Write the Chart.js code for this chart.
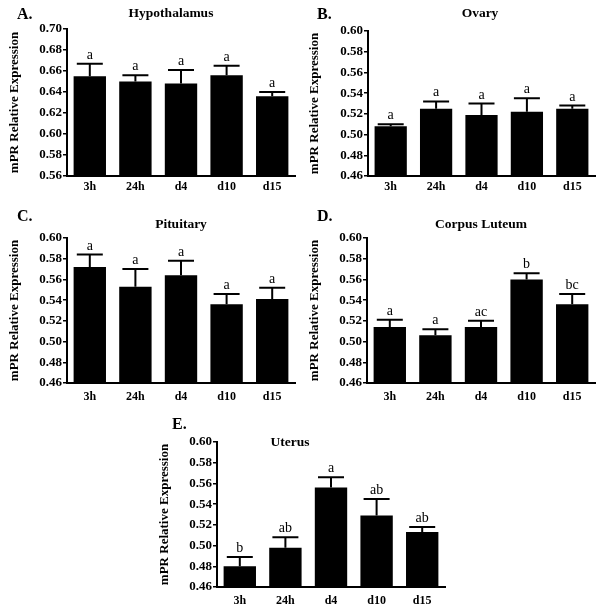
<!DOCTYPE html>
<html>
<head>
<meta charset="utf-8">
<script src="https://cdn.jsdelivr.net/npm/chart.js@4.4.0/dist/chart.umd.min.js"></script>
<style>
    body { margin: 0; background: #fff; }
    #wrap { position: relative; width: 600px; height: 608px; }
    #wrap canvas { position: absolute; }
</style>
</head>
<body>
<div id="wrap">
    <canvas id="chartA" width="300" height="200" style="left:0;top:0"></canvas>
    <canvas id="chartB" width="300" height="200" style="left:300px;top:0"></canvas>
    <canvas id="chartC" width="300" height="212" style="left:0;top:200px"></canvas>
    <canvas id="chartD" width="300" height="212" style="left:300px;top:200px"></canvas>
    <canvas id="chartE" width="300" height="208" style="left:150px;top:400px"></canvas>
</div>
<script>
// Data
const categories = ['3h', '24h', 'd4', 'd10', 'd15'];

const hypothalamusMean = [0.655, 0.650, 0.648, 0.656, 0.636];
const hypothalamusSem = [0.012, 0.006, 0.013, 0.009, 0.004];
const hypothalamusGroups = ['a', 'a', 'a', 'a', 'a'];

const ovaryMean = [0.508, 0.525, 0.519, 0.522, 0.525];
const ovarySem = [0.002, 0.007, 0.011, 0.013, 0.003];
const ovaryGroups = ['a', 'a', 'a', 'a', 'a'];

const pituitaryMean = [0.572, 0.553, 0.564, 0.536, 0.541];
const pituitarySem = [0.012, 0.017, 0.014, 0.010, 0.011];
const pituitaryGroups = ['a', 'a', 'a', 'a', 'a'];

const corpusLuteumMean = [0.514, 0.506, 0.514, 0.560, 0.536];
const corpusLuteumSem = [0.007, 0.006, 0.006, 0.006, 0.010];
const corpusLuteumGroups = ['a', 'a', 'ac', 'b', 'bc'];

const uterusMean = [0.480, 0.498, 0.556, 0.529, 0.513];
const uterusSem = [0.009, 0.010, 0.010, 0.016, 0.005];
const uterusGroups = ['b', 'ab', 'a', 'ab', 'ab'];

const hypothalamusRange = [0.56, 0.70];
const otherRange = [0.46, 0.60];
const tickStep = 0.02;

const serif = '"Liberation Serif", "Times New Roman", serif';

// Upper error bars + significance letters
const errorBars = {
    id: 'errorBars',
    afterDatasetsDraw(chart, args, opts) {
        const ctx = chart.ctx;
        const yScale = chart.scales.y;
        const data = chart.data.datasets[0].data;
        ctx.save();
        ctx.strokeStyle = '#000';
        ctx.fillStyle = '#000';
        ctx.lineWidth = 2;
        ctx.font = '14px ' + serif;
        ctx.textAlign = 'center';
        ctx.textBaseline = 'alphabetic';
        chart.getDatasetMeta(0).data.forEach((bar, i) => {
            const top = yScale.getPixelForValue(data[i] + opts.sem[i]);
            ctx.beginPath();
            ctx.moveTo(bar.x, bar.y);
            ctx.lineTo(bar.x, top);
            ctx.moveTo(bar.x - 13, top);
            ctx.lineTo(bar.x + 13, top);
            ctx.stroke();
            ctx.fillText(opts.groups[i], bar.x, top - 5);
        });
        ctx.restore();
    }
};

// Panel letter and title
const panelText = {
    id: 'panelText',
    afterDraw(chart, args, opts) {
        const ctx = chart.ctx;
        ctx.save();
        ctx.fillStyle = '#000';
        ctx.textBaseline = 'middle';
        ctx.textAlign = 'left';
        ctx.font = 'bold 16px ' + serif;
        ctx.fillText(opts.letter, opts.letterX, opts.letterY);
        ctx.textAlign = 'center';
        ctx.font = 'bold 13.5px ' + serif;
        ctx.fillText(opts.title, opts.titleX, opts.titleY);
        ctx.restore();
    }
};

function makeChart(id, mean, sem, groups, range, box, text) {
    const ctx = document.getElementById(id).getContext('2d');
    return new Chart(ctx, {
        type: 'bar',
        data: {
            labels: categories,
            datasets: [{
                data: mean,
                backgroundColor: '#000',
                borderWidth: 0,
                categoryPercentage: 1.0,
                barPercentage: 0.71
            }]
        },
        options: {
            responsive: false,
            animation: false,
            layout: {
                padding: { left: 0, top: box.top, right: box.right, bottom: 0 }
            },
            plugins: {
                legend: { display: false },
                tooltip: { enabled: false },
                errorBars: { sem: sem, groups: groups },
                panelText: text
            },
            scales: {
                x: {
                    grid: { display: false, drawTicks: false },
                    border: { display: true, color: '#000', width: 2 },
                    ticks: {
                        color: '#000',
                        padding: box.xPad,
                        font: { family: serif, size: 12, weight: 'bold' }
                    },
                    afterFit: function(scale) { scale.height = box.xHeight; }
                },
                y: {
                    min: range[0],
                    max: range[1],
                    grid: {
                        drawOnChartArea: false,
                        drawTicks: true,
                        tickLength: 4,
                        color: '#000',
                        lineWidth: 1.5
                    },
                    border: { display: true, color: '#000', width: 2 },
                    ticks: {
                        stepSize: tickStep,
                        color: '#000',
                        padding: 1,
                        font: { family: serif, size: 13, weight: 'bold' },
                        callback: function(v) { return v.toFixed(2); }
                    },
                    title: {
                        display: true,
                        text: 'mPR Relative Expression',
                        color: '#000',
                        padding: { top: 7, bottom: 0 },
                        font: { family: serif, size: 13, weight: 'bold' }
                    },
                    afterFit: function(scale) { scale.width = box.left; }
                }
            }
        },
        plugins: [errorBars, panelText]
    });
}

makeChart('chartA', hypothalamusMean, hypothalamusSem, hypothalamusGroups, hypothalamusRange,
    { left: 67, top: 29, right: 5, xHeight: 24, xPad: 4 },
    { letter: 'A.', letterX: 17, letterY: 15, title: 'Hypothalamus', titleX: 171, titleY: 14 });

makeChart('chartB', ovaryMean, ovarySem, ovaryGroups, otherRange,
    { left: 68, top: 31, right: 5, xHeight: 24, xPad: 4 },
    { letter: 'B.', letterX: 17, letterY: 15, title: 'Ovary', titleX: 180, titleY: 14 });

makeChart('chartC', pituitaryMean, pituitarySem, pituitaryGroups, otherRange,
    { left: 67, top: 38, right: 5, xHeight: 29, xPad: 7 },
    { letter: 'C.', letterX: 17, letterY: 17, title: 'Pituitary', titleX: 181, titleY: 25 });

makeChart('chartD', corpusLuteumMean, corpusLuteumSem, corpusLuteumGroups, otherRange,
    { left: 67, top: 38, right: 5, xHeight: 29, xPad: 7 },
    { letter: 'D.', letterX: 17, letterY: 17, title: 'Corpus Luteum', titleX: 181, titleY: 25 });

makeChart('chartE', uterusMean, uterusSem, uterusGroups, otherRange,
    { left: 67, top: 42, right: 5, xHeight: 21, xPad: 7 },
    { letter: 'E.', letterX: 22, letterY: 25, title: 'Uterus', titleX: 140, titleY: 43 });
</script>
</body>
</html>
